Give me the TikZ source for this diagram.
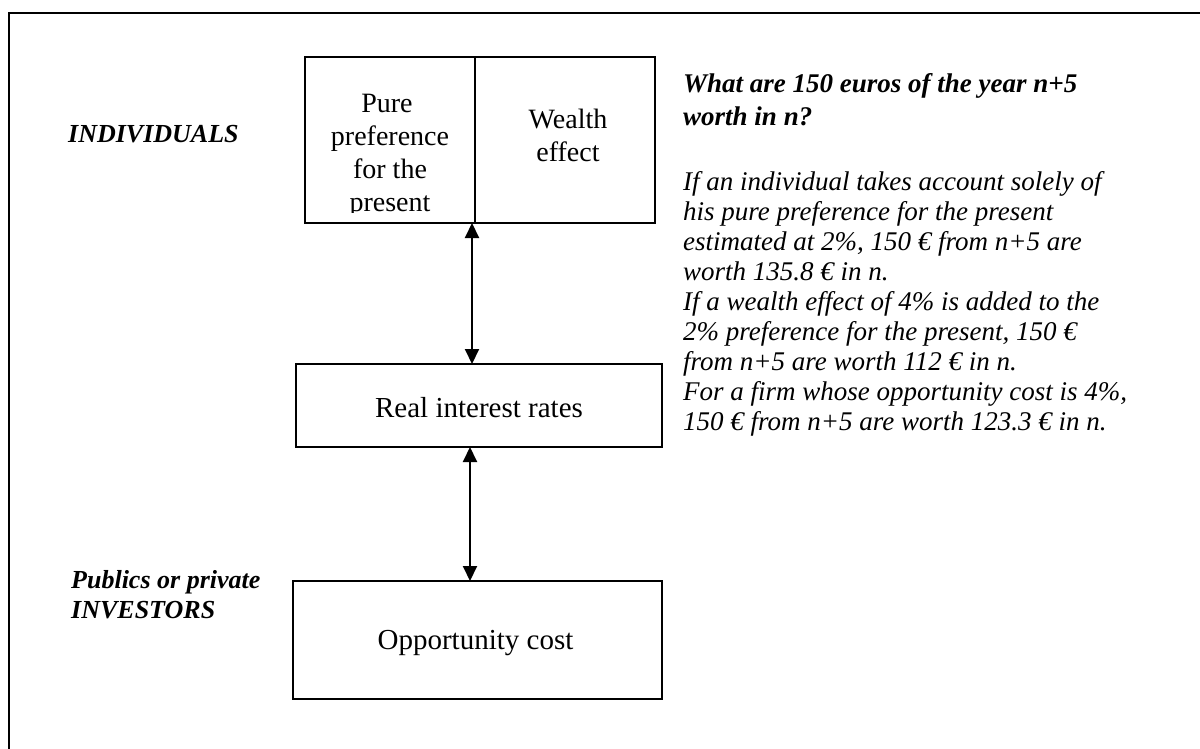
\documentclass[tikz,border=0pt]{standalone}
\usepackage{fontspec}
\setmainfont{Liberation Serif}
\usetikzlibrary{arrows.meta,calc}
\begin{document}
\begin{tikzpicture}[x=1pt,y=-1pt,
  box/.style={draw,line width=2pt,inner sep=0pt,outer sep=0pt,anchor=north west},
  arr/.style={line width=2pt,{Triangle[length=15pt,width=14pt]}-{Triangle[length=15pt,width=14pt]}},
  boxtext/.style={inner sep=0pt,align=center,font=\fontsize{29}{33}\selectfont},
  celltext/.style={inner sep=0pt,align=center,anchor=north,font=\fontsize{28}{33}\selectfont},
  sidelabel/.style={inner sep=0pt,anchor=base west,align=left,font=\fontsize{26}{30}\selectfont\bfseries\itshape},
  note/.style={inner sep=0pt,anchor=north west,align=left}]
\useasboundingbox (0,0) rectangle (1200,749);
\clip (0,0) rectangle (1200,749);
% outer frame (runs off the right and bottom edges)
\draw[line width=2pt] (9,770) -- (9,13) -- (1220,13);

% boxes
\node[box,minimum width=350pt,minimum height=166pt] (top) at (305,57) {};
\draw[line width=2pt] (top.north west) ++(170,0) coordinate (divt) -- (divt |- top.south);
\node[box,minimum width=366pt,minimum height=83pt] (mid) at (296,364) {};
\node[boxtext] (midt) at ($(mid.center)+(0,2.5)$) {Real interest rates};
\node[box,minimum width=369pt,minimum height=118pt] (opp) at (293,581) {};
\node[boxtext] (oppt) at ($(opp.center)+(-2,3)$) {Opportunity cost};

% texts of the top box (the last line is cut by the box)
\begin{scope}
  \clip (306,58) rectangle (474,212);
  \node[celltext] (pure) at (390,94) {Pure\hspace*{6pt}\\preference\\for the\\present};
\end{scope}
\node[celltext] (wealth) at (568,109) {Wealth\\effect};

% arrows
\draw[arr] ([xshift=-8pt]top.south) -- ([xshift=-8pt]top.south |- mid.north);
\draw[arr] ([xshift=-9pt]mid.south) -- ([xshift=-9pt]mid.south |- opp.north);

% side labels
\node[sidelabel] (indiv) at (68,143) {INDIVIDUALS};
\node[sidelabel] (invest) at (71,618) {Publics or private\\INVESTORS};

% explanatory text
\node[note,font=\fontsize{27}{33}\selectfont\bfseries\itshape] (title) at (683,73.5)
  {What are 150 euros of the year n+5\\worth in n?};
\node[note,font=\fontsize{27}{30}\selectfont\itshape] (body) at (683,171.5)
  {If an individual takes account solely of\\
   his pure preference for the present\\
   estimated at 2\%, 150 € from n+5 are\\
   worth 135.8 € in n.\\
   If a wealth effect of 4\% is added to the\\
   2\% preference for the present, 150 €\\
   from n+5 are worth 112 € in n.\\
   For a firm whose opportunity cost is 4\%,\\
   150 € from n+5 are worth 123.3 € in n.};
\end{tikzpicture}
\end{document}
